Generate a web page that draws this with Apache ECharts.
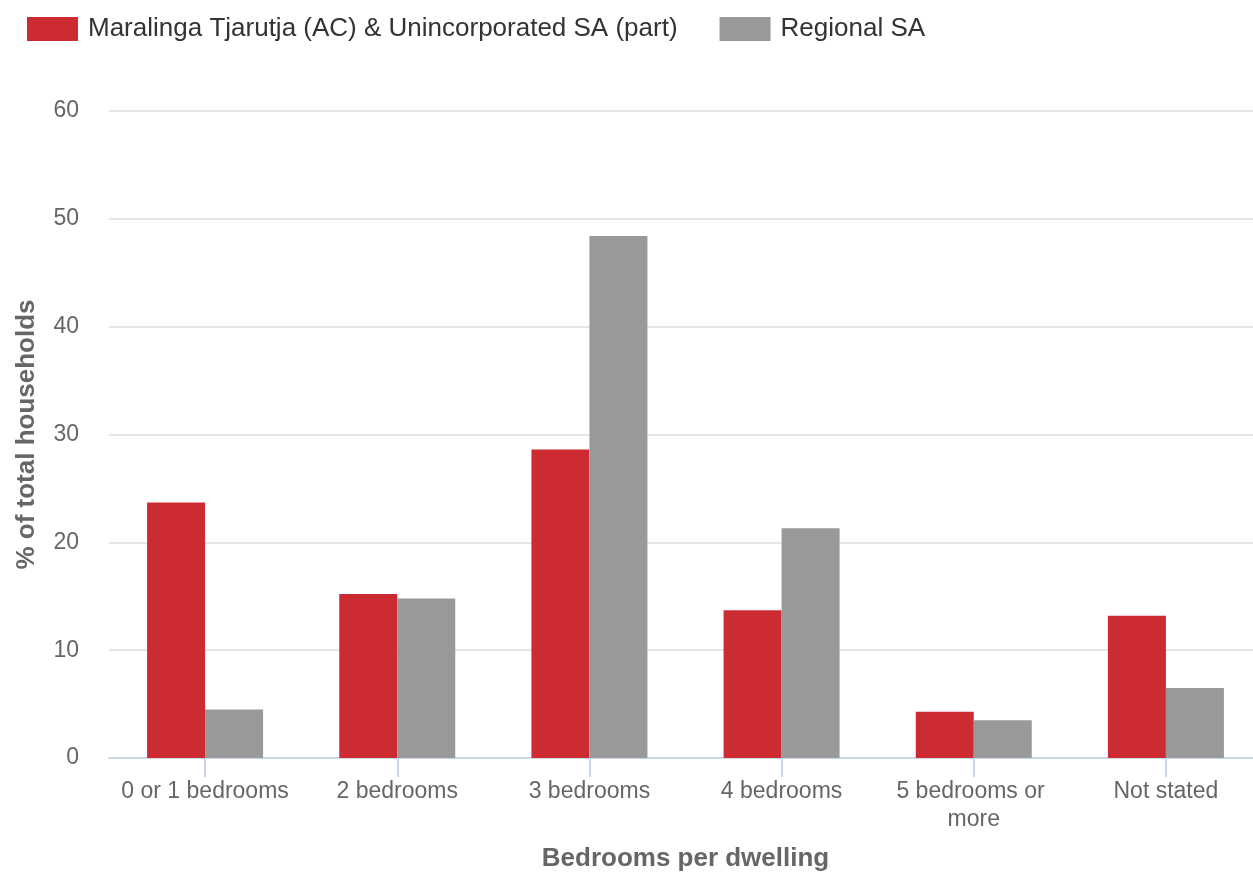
<!DOCTYPE html>
<html>
<head>
<meta charset="utf-8">
<script src="https://cdn.jsdelivr.net/npm/echarts@6/dist/echarts.min.js"></script>
<style>
html,body{margin:0;padding:0;background:#fff;}
#chart{width:1253px;height:873px;}
</style>
</head>
<body>
<div id="chart"></div>
<script>
const categories = ['0 or 1 bedrooms', '2 bedrooms', '3 bedrooms', '4 bedrooms', '5 bedrooms or more', 'Not stated'];
const seriesNames = ['Maralinga Tjarutja (AC) & Unincorporated SA (part)', 'Regional SA'];
const maralinga = [23.7, 15.2, 28.6, 13.7, 4.3, 13.2];
const regionalSA = [4.5, 14.8, 48.4, 21.3, 3.5, 6.5];
const yTicks = [0, 10, 20, 30, 40, 50, 60];

const FONT = '"Liberation Sans", Arial, sans-serif';
const chart = echarts.init(document.getElementById('chart'), null, {renderer: 'canvas'});
chart.setOption({
  animation: false,
  color: ['#cc2b31', '#999999'],
  textStyle: {fontFamily: FONT},
  legend: {
    left: 22, top: 11,
    itemWidth: 51, itemHeight: 24, itemGap: 42,
    icon: 'rect',
    textStyle: {fontSize: 26, color: '#333', fontFamily: FONT, padding: [0, 0, 0, 5]},
    data: seriesNames
  },
  grid: {left: 109, right: -9, top: 111, bottom: 115, containLabel: false, outerBoundsMode: 'none'},
  xAxis: {
    type: 'category',
    data: categories,
    axisLine: {lineStyle: {color: '#ccd6eb', width: 2}},
    axisTick: {show: true, alignWithLabel: true, length: 19, lineStyle: {color: '#ccd6eb', width: 2}},
    axisLabel: {fontSize: 23, color: '#666', margin: 20, width: 185, overflow: 'break', lineHeight: 28, interval: 0, fontFamily: FONT},
    name: 'Bedrooms per dwelling',
    nameLocation: 'middle',
    nameGap: 88,
    nameTextStyle: {fontSize: 26, fontWeight: 'bold', color: '#666', fontFamily: FONT}
  },
  yAxis: {
    type: 'value',
    min: yTicks[0], max: yTicks[yTicks.length - 1], interval: 10,
    axisLine: {show: false},
    axisTick: {show: false},
    splitLine: {lineStyle: {color: '#e6e6e6', width: 2}},
    axisLabel: {fontSize: 23, color: '#666', margin: 30, fontFamily: FONT},
    name: '% of total households',
    nameLocation: 'middle',
    nameGap: 69,
    nameTextStyle: {fontSize: 26, fontWeight: 'bold', color: '#666', fontFamily: FONT}
  },
  series: [
    {name: seriesNames[0], type: 'bar', data: maralinga, barWidth: 58, barGap: '0%'},
    {name: seriesNames[1], type: 'bar', data: regionalSA, barWidth: 58, barGap: '0%'}
  ]
});
</script>
</body>
</html>
